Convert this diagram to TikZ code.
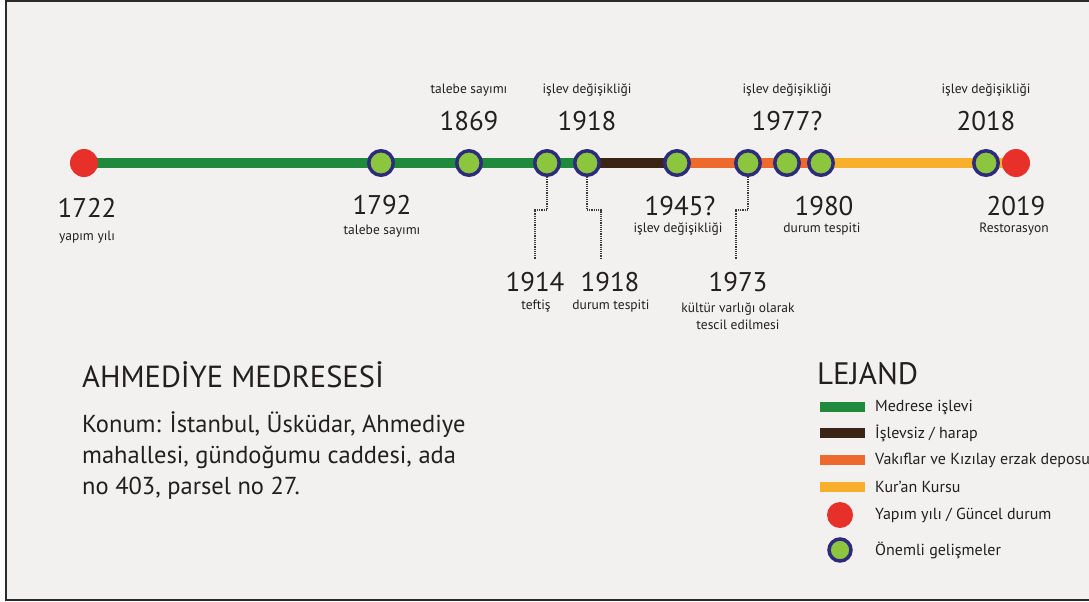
\documentclass[tikz,border=0pt]{standalone}
\usepackage{fontspec}
\setmainfont{PT Sans}
\definecolor{bgc}{HTML}{F2F1EF}
\definecolor{frame}{HTML}{2B2B2B}
\definecolor{txt}{HTML}{231F20}
\definecolor{gline}{HTML}{1F8A3B}
\definecolor{bline}{HTML}{3B2416}
\definecolor{oline}{HTML}{EE6A2C}
\definecolor{yline}{HTML}{F8B02C}
\definecolor{redpt}{HTML}{E8302A}
\definecolor{navy}{HTML}{2E2A7C}
\definecolor{lime}{HTML}{8CC63F}
\definecolor{dotc}{HTML}{3A3A3A}
\pgfdeclarelayer{back}
\pgfdeclarelayer{lines}
\pgfsetlayers{back,lines,main}
\tikzset{
  event/.style={circle, fill=lime, draw=navy, line width=3.5pt, minimum size=24.5pt, inner sep=0pt},
  endpt/.style={circle, fill=redpt, minimum size=28pt, inner sep=0pt},
  year/.style={font=\fontsize{27}{30}\selectfont, text=txt, inner sep=0pt},
  sub/.style={font=\fontsize{13.5}{16}\selectfont, text=txt, inner sep=0pt, align=center},
  seg/.style={line width=10pt},
  leader/.style={draw=dotc, densely dotted, line width=1.2pt},
  legtext/.style={font=\fontsize{16}{18}\selectfont, text=txt, anchor=west, inner sep=0pt},
  legbar/.style={minimum width=45pt, minimum height=10pt, inner sep=0pt}
}
\begin{document}
\begin{tikzpicture}[x=1pt,y=-1pt]
\useasboundingbox (0,0) rectangle (1089,602);
\begin{pgfonlayer}{back}
  \fill[white] (0,0) rectangle (1089,602);
  \fill[bgc] (6,1) rectangle (1089,599.5);
  \draw[frame, line width=2pt] (1089,1) -- (6,1) -- (6,599.5) -- (1089,599.5);
\end{pgfonlayer}

% timeline points
\node[endpt] (n1722) at (84,163) {};
\node[event] (n1792) at (381,163) {};
\node[event] (n1869) at (469,163) {};
\node[event] (n1914) at (547,163) {};
\node[event] (n1918) at (587,163) {};
\node[event] (n1945) at (677,163) {};
\node[event] (n1973) at (748,163) {};
\node[event] (n1977) at (787,163) {};
\node[event] (n1980) at (821,163) {};
\node[event] (n2018) at (986,163) {};
\node[endpt] (n2019) at (1016,163) {};

\begin{pgfonlayer}{lines}
  \draw[seg, gline] (n1722.center) -- (n1918.center);
  \draw[seg, bline] (n1918.center) -- (n1945.center);
  \draw[seg, oline] (n1945.center) -- (n1980.center);
  \draw[seg, yline] (n1980.center) -- (n2019.center);
\end{pgfonlayer}

% labels above
\node[sub] (t1869s) at (469,90) {talebe sayımı};
\node[year] (t1869) at (469,121) {1869};
\node[sub] (t1918s) at (587,90) {işlev değişikliği};
\node[year] (t1918) at (587,121) {1918};
\node[sub] (t1977s) at (787,90) {işlev değişikliği};
\node[year] (t1977) at (787,121) {1977?};
\node[sub] (t2018s) at (986,90) {işlev değişikliği};
\node[year] (t2018) at (986,121) {2018};

% labels below
\node[year] (t1722) at (87,208) {1722};
\node[sub] (t1722s) at (87,237) {yapım yılı};
\node[year] (t1792) at (382,205) {1792};
\node[sub] (t1792s) at (382,231) {talebe sayımı};
\node[year] (t1945) at (680,206) {1945?};
\node[sub] (t1945s) at (678,229) {işlev değişikliği};
\node[year] (t1980) at (824,206) {1980};
\node[sub] (t1980s) at (822,229) {durum tespiti};
\node[year] (t2019) at (1016,206) {2019};
\node[sub] (t2019s) at (1014,229) {Restorasyon};

\node[year] (t1914) at (535,282) {1914};
\node[sub] (t1914s) at (536,306) {teftiş};
\node[year] (t1918b) at (610,282) {1918};
\node[sub] (t1918bs) at (611,306) {durum tespiti};
\node[year] (t1973) at (738,282) {1973};
\node[sub, font=\fontsize{13.5}{16.5}\selectfont] (t1973s) at (738,316) {kültür varlığı olarak\\tescil edilmesi};

% dotted leaders
\coordinate (e1914) at (535,259);
\coordinate (e1918) at (601,259);
\coordinate (e1973) at (736,259);
\draw[leader] (n1914.south) |- (535,210) -- (e1914);
\draw[leader] (n1918.south) |- (601,210) -- (e1918);
\draw[leader] (n1973.south) |- (736,210) -- (e1973);

% title and address
\node[font=\fontsize{30.5}{32}\selectfont, text=txt, anchor=west, inner sep=0pt] (title) at (82,375) {AHMEDİYE MEDRESESİ};
\node[font=\fontsize{24.5}{31}\selectfont, text=txt, anchor=north west, align=left, inner sep=0pt] (addr) at (82,411)
  {Konum: İstanbul, Üsküdar, Ahmediye\\mahallesi, gündoğumu caddesi, ada\\no 403, parsel no 27.};

% legend
\node[font=\fontsize{31}{33}\selectfont, text=txt, anchor=west, inner sep=0pt] (legtitle) at (817,374) {LEJAND};
\node[legbar, fill=gline] (lg1) at (842.5,407) {};
\node[legtext] (lt1) at (875,407) {Medrese işlevi};
\node[legbar, fill=bline] (lg2) at (842.5,433) {};
\node[legtext] (lt2) at (875,433) {İşlevsiz / harap};
\node[legbar, fill=oline] (lg3) at (842.5,460) {};
\node[legtext] (lt3) at (875,460) {Vakıflar ve Kızılay erzak deposu};
\node[legbar, fill=yline] (lg4) at (842.5,487) {};
\node[legtext] (lt4) at (875,487) {Kur’an Kursu};
\node[endpt, minimum size=26pt] (lg5) at (840,515) {};
\node[legtext] (lt5) at (875,515) {Yapım yılı / Güncel durum};
\node[event, minimum size=22pt, line width=3.5pt] (lg6) at (840,550) {};
\node[legtext] (lt6) at (875,550) {Önemli gelişmeler};
\end{tikzpicture}
\end{document}
